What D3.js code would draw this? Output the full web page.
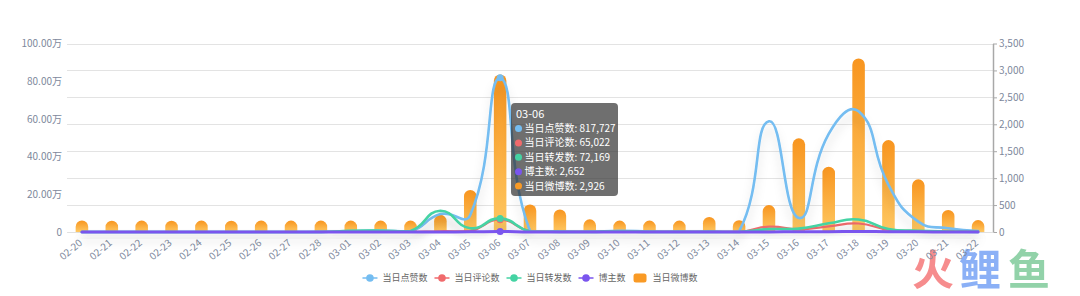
<!DOCTYPE html>
<html><head><meta charset="utf-8">
<script src="https://cdn.jsdelivr.net/npm/d3@7/dist/d3.min.js"></script>
<style>
html,body{margin:0;padding:0;background:#fff;}
svg{display:block;font-family:"Noto Sans CJK SC","Noto Sans",sans-serif;}
</style>
</head><body>
<svg id="chart" width="1080" height="296"></svg>
<script>
// ---------------- data ----------------
const categories = ["02-20","02-21","02-22","02-23","02-24","02-25","02-26","02-27","02-28",
  "03-01","03-02","03-03","03-04","03-05","03-06","03-07","03-08","03-09","03-10","03-11",
  "03-12","03-13","03-14","03-15","03-16","03-17","03-18","03-19","03-20","03-21","03-22"];
// 当日点赞数
const likes = [300,200,250,200,300,250,200,300,400,
  5000,8000,3000,95000,90000,817727,5000,3000,2000,6000,3000,
  2000,2000,3000,587000,74000,520000,640000,250000,55000,20000,5000];
// 当日评论数
const comments = [100,100,100,100,100,100,100,100,100,
  500,600,400,4000,5000,65022,3000,500,300,600,300,
  300,300,400,28000,15000,30000,45000,12000,5000,2000,500];
// 当日转发数
const reposts = [100,100,100,100,100,100,100,100,100,
  6000,7000,5000,113000,20000,72169,3000,800,500,3000,500,
  400,400,600,15000,18000,46000,66000,16000,7000,3000,800];
// 博主数
const bloggers = [190,185,188,186,190,185,187,188,189,
  190,191,189,290,700,2652,450,380,210,190,190,
  190,250,195,450,1580,1100,2900,1550,880,370,200];
// 当日微博数
const posts = [215,210,212,210,212,210,212,212,212,
  212,212,212,318,780,2926,510,420,235,212,212,
  212,280,218,500,1740,1212,3222,1707,978,408,222];

const seriesNames = ["当日点赞数","当日评论数","当日转发数","博主数","当日微博数"];
const seriesColors = ["#74bdf1","#f06a6c","#44d3a3","#7a55ee","#f99a25"];
const leftTicks = [0,200000,400000,600000,800000,1000000];
const leftTickLabels = ["0","20.00万","40.00万","60.00万","80.00万","100.00万"];
const rightTicks = [0,500,1000,1500,2000,2500,3000,3500];
const tooltipIndex = 14;

// ---------------- layout ----------------
const M = {left: 67, right: 993, top: 43.5, bottom: 232};
const svg = d3.select("#chart");
const defs = svg.append("defs");

const x = d3.scaleBand().domain(categories).range([M.left, M.right]).paddingInner(0).paddingOuter(0);
const cx = d => x(d) + x.bandwidth() / 2;
const yL = d3.scaleLinear().domain([0, 1000000]).range([M.bottom, M.top]);
const yR = d3.scaleLinear().domain([0, 3500]).range([M.bottom, M.top]);

// watermark
const wm = svg.append("g").attr("font-weight", 700).attr("font-size", 42).attr("opacity", 0.85);
[["火", "#f5787a", 912], ["鲤", "#77a3f5", 959], ["鱼", "#7fcb9b", 1008]].forEach(([t, c, px]) => {
  wm.append("text").attr("x", px).attr("y", 285).attr("fill", c).text(t);
});

// gridlines (right axis split lines)
svg.append("g").selectAll("line").data(rightTicks).join("line")
  .attr("x1", M.left).attr("x2", M.right)
  .attr("y1", d => Math.round(yR(d)) + 0.5).attr("y2", d => Math.round(yR(d)) + 0.5)
  .attr("stroke", "#e3e3e3").attr("stroke-width", 1);

// left axis labels
const axisColor = "#7d889c";
const gL = svg.append("g").attr("transform", `translate(${M.left},0)`)
  .call(d3.axisLeft(yL).tickValues(leftTicks).tickFormat((d, i) => leftTickLabels[i]).tickSize(0).tickPadding(5));
gL.select(".domain").remove();
gL.selectAll("text").attr("fill", axisColor).attr("font-size", 10).attr("font-family", "'Noto Sans CJK SC',sans-serif");

// right axis
const gR = svg.append("g").attr("transform", `translate(${M.right},0)`)
  .call(d3.axisRight(yR).tickValues(rightTicks).tickFormat(d3.format(",")).tickSize(4).tickPadding(2).tickSizeOuter(0));
gR.select(".domain").attr("stroke", "#a8a8a8").attr("stroke-width", 1.5);
gR.selectAll(".tick line").attr("stroke", "#a8a8a8");
gR.selectAll("text").attr("fill", axisColor).attr("font-size", 10).attr("font-family", "'Noto Sans CJK SC',sans-serif");

// x axis
const gX = svg.append("g").attr("transform", `translate(0,${M.bottom})`)
  .call(d3.axisBottom(x).tickSize(0).tickPadding(0));
gX.select(".domain").attr("stroke", "#e0e0e0");
gX.selectAll(".tick text")
  .attr("fill", axisColor).attr("font-size", 10).attr("font-family", "'Noto Sans CJK SC',sans-serif")
  .attr("text-anchor", "end").attr("dy", null).attr("y", 0)
  .attr("transform", "translate(1,12) rotate(-40)");

// bar gradient
const grad = defs.append("linearGradient").attr("id", "barGrad").attr("x1", 0).attr("y1", 0).attr("x2", 0).attr("y2", 1);
grad.append("stop").attr("offset", "0%").attr("stop-color", "#f8951f");
grad.append("stop").attr("offset", "100%").attr("stop-color", "#fec862");

// bars (rounded top)
const bw = x.bandwidth() * 0.42;
svg.append("g").selectAll("path").data(posts).join("path")
  .attr("fill", "url(#barGrad)")
  .attr("d", (v, i) => {
    const x0 = cx(categories[i]) - bw / 2, x1 = x0 + bw;
    const yt = yR(v), yb = yR(0);
    const r = Math.min(bw / 2, yb - yt);
    return `M${x0},${yb}L${x0},${yt + r}A${r},${r} 0 0 1 ${x0 + r},${yt}L${x1 - r},${yt}A${r},${r} 0 0 1 ${x1},${yt + r}L${x1},${yb}Z`;
  });

// shadow filter for lines
const f = defs.append("filter").attr("id", "lshadow").attr("x", "-10%").attr("y", "-30%").attr("width", "120%").attr("height", "160%");
f.append("feDropShadow").attr("dx", 0).attr("dy", 8).attr("stdDeviation", 5)
  .attr("flood-color", "#000").attr("flood-opacity", 0.14);

// ECharts-like smooth path (smooth = 0.5, bounding box constraint)
function smoothPath(pts, smooth) {
  const xs = pts.map(p => p[0]), ys = pts.map(p => p[1]);
  const mn = [d3.min(xs), d3.min(ys)], mx = [d3.max(xs), d3.max(ys)];
  const clamp = p => [Math.max(mn[0], Math.min(mx[0], p[0])), Math.max(mn[1], Math.min(mx[1], p[1]))];
  let d = `M${pts[0][0]},${pts[0][1]}`;
  let cp0 = pts[0].slice();
  for (let i = 1; i < pts.length; i++) {
    const p = pts[i], prev = pts[i - 1], next = pts[i + 1];
    let cp1, ratio = 0.5, v = [0, 0];
    if (!next) { cp1 = p.slice(); }
    else {
      v = [next[0] - prev[0], next[1] - prev[1]];
      const l0 = Math.hypot(p[0] - prev[0], p[1] - prev[1]);
      const l1 = Math.hypot(next[0] - p[0], next[1] - p[1]);
      ratio = (l0 + l1) === 0 ? 0.5 : l1 / (l0 + l1);
      cp1 = [p[0] - v[0] * smooth * (1 - ratio), p[1] - v[1] * smooth * (1 - ratio)];
    }
    const c0 = clamp(cp0), c1 = clamp(cp1);
    d += `C${c0[0]},${c0[1]} ${c1[0]},${c1[1]} ${p[0]},${p[1]}`;
    cp0 = [p[0] + v[0] * smooth * ratio, p[1] + v[1] * smooth * ratio];
  }
  return d;
}

const lineSeries = [
  {data: likes, color: seriesColors[0], w: 2.6, shadow: true},
  {data: comments, color: seriesColors[1], w: 2.2, shadow: true},
  {data: reposts, color: seriesColors[2], w: 2.6, shadow: true},
  {data: bloggers, color: seriesColors[3], w: 3, shadow: false}
];
const gLines = svg.append("g");
lineSeries.forEach(s => {
  const pts = s.data.map((v, i) => [cx(categories[i]), yL(v)]);
  gLines.append("path").attr("d", smoothPath(pts, 0.5))
    .attr("fill", "none").attr("stroke", s.color).attr("stroke-width", s.w)
    .attr("stroke-linejoin", "round").attr("stroke-linecap", "round")
    .attr("filter", s.shadow ? "url(#lshadow)" : null);
});
// highlighted symbols at hovered category
lineSeries.forEach(s => {
  svg.append("circle").attr("cx", cx(categories[tooltipIndex])).attr("cy", yL(s.data[tooltipIndex]))
    .attr("r", 3.5).attr("fill", s.color);
});

// legend
const lg = svg.append("g").attr("font-size", 9).attr("fill", "#666");
const legendY = 278;
let items = [];
seriesNames.forEach((n, i) => {
  const g = lg.append("g");
  if (i < 4) {
    g.append("line").attr("x1", 0).attr("x2", 15).attr("y1", 0).attr("y2", 0).attr("stroke", seriesColors[i]).attr("stroke-width", 1.5);
    g.append("circle").attr("cx", 7.5).attr("cy", 0).attr("r", 3.8).attr("fill", seriesColors[i]);
  } else {
    g.append("rect").attr("x", 1).attr("y", -4.5).attr("width", 13).attr("height", 9).attr("rx", 2.5).attr("fill", seriesColors[i]);
  }
  const t = g.append("text").attr("x", 20).attr("y", 0).attr("dy", "0.35em").text(n);
  const w = 20 + t.node().getComputedTextLength();
  items.push({g, w});
});
const gap = 7;
const total = d3.sum(items, d => d.w) + gap * (items.length - 1);
let lx = 530 - total / 2;
items.forEach(it => { it.g.attr("transform", `translate(${lx},${legendY})`); lx += it.w + gap; });

// tooltip
const tt = svg.append("g").attr("transform", "translate(511,103)");
tt.append("rect").attr("width", 107).attr("height", 93).attr("rx", 4).attr("fill", "rgba(50,50,50,0.7)");
tt.append("text").attr("x", 5).attr("y", 11).attr("dy", "0.35em").attr("fill", "#fff").attr("font-size", 11)
  .text(categories[tooltipIndex]);
const ttVals = [likes, comments, reposts, bloggers, posts];
seriesNames.forEach((n, i) => {
  const yy = 25.5 + i * 14.4;
  tt.append("circle").attr("cx", 7.5).attr("cy", yy).attr("r", 3.5).attr("fill", seriesColors[i]);
  tt.append("text").attr("x", 13.5).attr("y", yy).attr("dy", "0.35em").attr("fill", "#fff").attr("font-size", 10)
    .text(`${n}: ${d3.format(",")(ttVals[i][tooltipIndex])}`);
});
</script>
</body></html>
